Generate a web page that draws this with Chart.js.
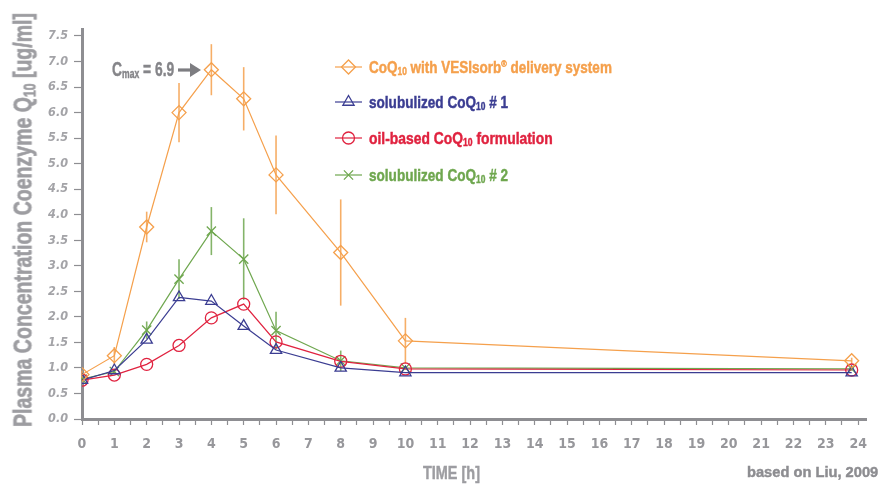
<!DOCTYPE html>
<html>
<head>
<meta charset="utf-8">
<script src="https://cdn.jsdelivr.net/npm/chart.js@4.4.1/dist/chart.umd.min.js"></script>
<style>
  html, body { margin: 0; padding: 0; background: #fff; }
  #wrap { position: relative; width: 878px; height: 485px; overflow: hidden;
          font-family: "Liberation Sans", Arial, sans-serif; font-weight: bold; }
  #wrap canvas { position: absolute; left: 0; top: 0; }
  .txt { position: absolute; white-space: nowrap; line-height: 1; transform-origin: left center;
         -webkit-text-stroke: 0.45px currentColor; }
  .ytitle { font-size: 26px; color: #9d9da1; transform-origin: center center; -webkit-text-stroke: 0.7px currentColor; }
  .sub { font-size: 0.62em; position: relative; top: 0.22em; }
  .legend { font-size: 16.5px; }
  .cmax { font-size: 21px; color: #858589; }
  .xtitle { font-size: 19px; color: #9d9da1; }
  .src { font-size: 15px; color: #8d8d91; }
</style>
</head>
<body>
<div id="wrap">
  <canvas id="pkChart" width="878" height="485"></canvas>
  <div class="txt ytitle" id="ytitle">Plasma Concentration Coenzyme Q<span class="sub">10</span> [ug/ml]</div>
  <div class="txt cmax" data-x="112" data-cy="68" data-w="62">C<span class="sub">max</span> = 6.9</div>
  <div class="txt legend" data-x="369" data-cy="67" data-w="243" style="color:#f5a04c">CoQ<span class="sub">10</span> with VESIsorb<sup style="font-size:0.55em">®</sup> delivery system</div>
  <div class="txt legend" data-x="369" data-cy="102" data-w="139" style="color:#3b3d92">solubulized CoQ<span class="sub">10</span> # 1</div>
  <div class="txt legend" data-x="369" data-cy="138" data-w="184" style="color:#e0223f">oil-based CoQ<span class="sub">10</span> formulation</div>
  <div class="txt legend" data-x="369" data-cy="175" data-w="139" style="color:#6fa74f">solubulized CoQ<span class="sub">10</span> # 2</div>
  <div class="txt xtitle" data-x="423" data-cy="472" data-w="57">TIME [h]</div>
  <div class="txt src" data-x="747" data-cy="471" data-w="131">based on Liu, 2009</div>
</div>
<script>
/* ---- data ---- */
const hours = [0, 1, 2, 3, 4, 5, 6, 8, 10, 23.8];

const vesisorb    = [0.87, 1.24, 3.76, 6.00, 6.84, 6.27, 4.78, 3.26, 1.53, 1.14];
const vesisorbErr = [0.08, 0.17, 0.30, 0.58, 0.50, 0.62, 0.77, 1.04, 0.45, 0.06];
const solub1      = [0.76, 0.95, 1.55, 2.38, 2.31, 1.82, 1.35, 1.00, 0.91, 0.91];
const oilBased    = [0.76, 0.86, 1.07, 1.44, 1.98, 2.25, 1.51, 1.13, 0.98, 0.96];
const solub2      = [0.78, 0.93, 1.74, 2.74, 3.68, 3.13, 1.73, 1.14, 1.00, 0.98];
const solub2Err   = [0.03, 0.05, 0.17, 0.39, 0.47, 0.80, 0.37, 0.20, 0.03, 0.03];

const yTicks = [0, 0.5, 1, 1.5, 2, 2.5, 3, 3.5, 4, 4.5, 5, 5.5, 6, 6.5, 7, 7.5];
const xTicks = [0,0.5,1,1.5,2,2.5,3,3.5,4,4.5,5,5.5,6,6.5,7,7.5,8,8.5,9,9.5,10,10.5,11,11.5,12,
                12.5,13,13.5,14,14.5,15,15.5,16,16.5,17,17.5,18,18.5,19,19.5,20,20.5,21,21.5,22,22.5,23,23.5,24];

const ORANGE = '#f5a04c', BLUE = '#3b3d92', RED = '#e0223f', GREEN = '#6fa74f', GREY = '#8e8e92';
const FONT = '"DejaVu Sans Condensed", "Liberation Sans", sans-serif';

// squeeze the html labels to the widths of the original condensed type
document.querySelectorAll('.txt[data-w]').forEach((el) => {
  const k = +el.dataset.w / el.offsetWidth;
  el.style.left = el.dataset.x + 'px';
  el.style.top = (+el.dataset.cy - el.offsetHeight / 2) + 'px';
  el.style.transform = `scaleX(${k})`;
});
(() => {
  const el = document.getElementById('ytitle');
  const k = 414 / el.offsetWidth;
  el.style.left = (22 - el.offsetWidth / 2) + 'px';
  el.style.top = (220 - el.offsetHeight / 2) + 'px';
  el.style.transform = `rotate(-90deg) scaleX(${k})`;
})();

const pts = (ys) => hours.map((h, i) => ({ x: h, y: ys[i] }));

function series(label, ys, color, style, radius, err) {
  return {
    label, data: pts(ys), err,
    showLine: true, borderColor: color, backgroundColor: 'rgba(0,0,0,0)',
    borderWidth: 1.2, pointStyle: style, pointRadius: radius,
    pointBorderColor: color, pointBorderWidth: 1.3, pointBackgroundColor: 'rgba(0,0,0,0)'
  };
}

// vertical error bars, drawn through the chart scales
const errorBars = {
  id: 'errorBars',
  beforeDatasetsDraw(chart) {
    const { ctx, scales: { x, y } } = chart;
    chart.data.datasets.forEach((ds) => {
      if (!ds.err) return;
      ctx.save();
      ctx.strokeStyle = ds.borderColor;
      ctx.globalAlpha = 0.85;
      ctx.lineWidth = 1.6;
      ds.data.forEach((p, i) => {
        const e = ds.err[i];
        const px = x.getPixelForValue(p.x);
        ctx.beginPath();
        ctx.moveTo(px, y.getPixelForValue(p.y + e));
        ctx.lineTo(px, y.getPixelForValue(p.y - e));
        ctx.stroke();
      });
      ctx.restore();
    });
  }
};

// legend samples + Cmax arrow
const decorations = {
  id: 'decorations',
  afterDraw(chart) {
    const { ctx } = chart;
    const rows = [67, 102, 138, 175];
    chart.data.datasets.forEach((ds, i) => {
      const yy = rows[i];
      ctx.save();
      ctx.strokeStyle = ds.borderColor;
      ctx.fillStyle = 'rgba(0,0,0,0)';
      ctx.lineWidth = 1.2;
      ctx.beginPath(); ctx.moveTo(335, yy); ctx.lineTo(362, yy); ctx.stroke();
      ctx.lineWidth = 1.3;
      Chart.helpers.drawPoint(ctx, { pointStyle: ds.pointStyle, radius: ds.pointRadius, borderWidth: 1.3 }, 348.5, yy);
      ctx.restore();
    });
    // arrow
    ctx.save();
    ctx.strokeStyle = '#7d7d81'; ctx.fillStyle = '#7d7d81'; ctx.lineWidth = 3.2;
    ctx.beginPath(); ctx.moveTo(178, 70); ctx.lineTo(192, 70); ctx.stroke();
    ctx.beginPath(); ctx.moveTo(190, 63); ctx.lineTo(201, 70); ctx.lineTo(190, 77); ctx.closePath(); ctx.fill();
    ctx.restore();
  }
};

new Chart(document.getElementById('pkChart'), {
  type: 'scatter',
  data: {
    datasets: [
      series('CoQ10 with VESIsorb delivery system', vesisorb, ORANGE, 'rectRot', 7, vesisorbErr),
      series('solubulized CoQ10 # 1', solub1, BLUE, 'triangle', 6.5),
      series('oil-based CoQ10 formulation', oilBased, RED, 'circle', 6),
      series('solubulized CoQ10 # 2', solub2, GREEN, 'crossRot', 6.5, solub2Err)
    ]
  },
  options: {
    responsive: false, animation: false,
    layout: { padding: { top: 29, right: 0, left: 0, bottom: 0 } },
    plugins: { legend: { display: false }, tooltip: { enabled: false } },
    scales: {
      x: {
        type: 'linear', min: 0, max: 24.27,
        afterBuildTicks: (s) => { s.ticks = xTicks.map(v => ({ value: v })); },
        afterFit: (s) => { s.height = 66; },
        border: { color: GREY, width: 3 },
        grid: { drawOnChartArea: false, drawTicks: true, tickLength: 6, tickWidth: 1.2, color: GREY },
        ticks: {
          autoSkip: false, maxRotation: 0, padding: 11, color: '#97979b',
          font: { family: FONT, size: 14, weight: 'bold' },
          callback: (v) => Number.isInteger(v) ? String(v) : ''
        }
      },
      y: {
        min: 0, max: 7.637,
        afterBuildTicks: (s) => { s.ticks = yTicks.map(v => ({ value: v })); },
        afterFit: (s) => { s.width = 82; },
        border: { color: GREY, width: 3 },
        grid: { drawOnChartArea: false, drawTicks: true, tickLength: 8, tickWidth: 1.2, color: GREY },
        ticks: {
          padding: 6, color: '#a3a3a7',
          font: { family: FONT, size: 12.5, weight: 'bold', style: 'italic' },
          callback: (v) => v.toFixed(1)
        }
      }
    }
  },
  plugins: [errorBars, decorations]
});
</script>
</body>
</html>
